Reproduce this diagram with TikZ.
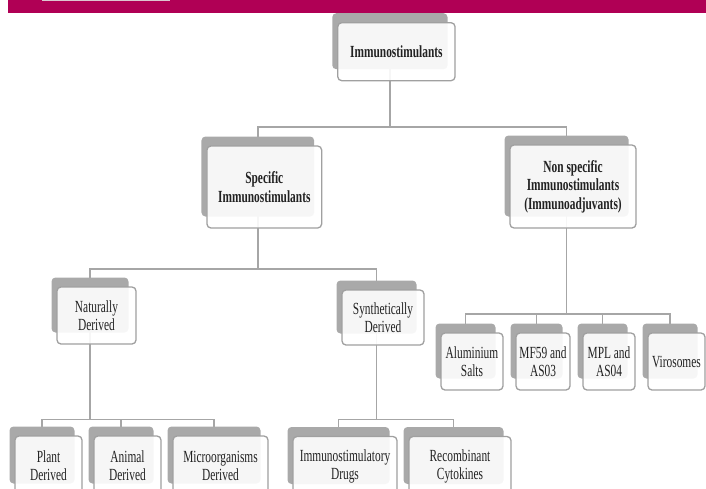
\documentclass[tikz,border=0pt]{standalone}
\usepackage{fontspec}
\setmainfont{Liberation Serif}[FakeStretch=0.67]
\definecolor{barc}{HTML}{B00055}
\definecolor{stripec}{HTML}{DCC6CF}
\definecolor{shadc}{HTML}{A9A9A9}
\definecolor{edgec}{HTML}{A0A0A0}
\definecolor{connc}{HTML}{A6A6A6}
\definecolor{txtc}{HTML}{222222}
\pgfdeclarelayer{connlayer}
\pgfdeclarelayer{shadlayer}
\pgfsetlayers{connlayer,shadlayer,main}
\tikzset{
  frontbox/.style={draw=edgec, line width=1.3pt, fill=white, fill opacity=0.9,
    text opacity=1, draw opacity=1, rounded corners=4pt, inner sep=0pt,
    align=center, text=txtc, font=\fontsize{17}{18}\selectfont},
  shadowbox/.style={fill=shadc, rounded corners=4pt, inner sep=0pt},
  conn/.style={draw=connc, line width=1.9pt},
  bold/.style={font=\fontsize{17}{18.5}\selectfont\bfseries}
}
% #1 name, #2 cx, #3 cy, #4 w, #5 h, #6 extra style, #7 text
\newcommand\dbox[7]{%
  \node[frontbox, minimum width=#4pt, minimum height=#5pt, #6] (#1) at (#2,#3) {#7};
  \begin{pgfonlayer}{shadlayer}
    \node[shadowbox, minimum width=#4pt-2pt, minimum height=#5pt-2pt] (#1s) at (#2-6.5,#3-10.5) {};
  \end{pgfonlayer}}
\begin{document}
\begin{tikzpicture}[x=1pt, y=-1pt]
\useasboundingbox (0,0) rectangle (706,488);
\clip (0,0) rectangle (706,488);
% header bar
\fill[barc] (8,0) rectangle (706,12.5);
\fill[stripec] (42,0) rectangle (170,1.4);

% boxes
\dbox{top}{396.4}{51.7}{117.3}{58}{bold}{Immunostimulants}
\dbox{spec}{264.3}{187}{114.7}{82}{bold}{Specific\\Immunostimulants}
\dbox{non}{573}{186.5}{126}{83}{bold}{Non specific\\Immunostimulants\\(Immunoadjuvants)}
\dbox{nat}{96.5}{315.5}{79}{57}{}{Naturally\\Derived}
\dbox{syn}{383}{317.5}{82}{55}{}{Synthetically\\Derived}
\dbox{plant}{48.5}{465.5}{67}{59}{}{Plant\\Derived}
\dbox{animal}{127.5}{465.5}{67}{59}{}{Animal\\Derived}
\dbox{micro}{220.5}{465.5}{95}{59}{}{Microorganisms\\Derived}
\dbox{drugs}{345}{466}{104}{59}{}{Immunostimulatory\\Drugs}
\dbox{recomb}{460}{466}{102}{59}{}{Recombinant\\Cytokines}
\dbox{alum}{472}{361.5}{62}{57}{}{Aluminium\\Salts}
\dbox{mf}{543}{361.5}{54}{57}{}{MF59 and\\AS03}
\dbox{mpl}{609}{361.5}{52}{57}{}{MPL and\\AS04}
\dbox{viro}{676.5}{361.5}{57}{57}{}{Virosomes}

% connectors
\begin{pgfonlayer}{connlayer}
\coordinate (j1) at (390,127.3);
\coordinate (j2) at (258,269);
\coordinate (j3) at (90,419.5);
\coordinate (j4) at (376.5,419.5);
\coordinate (j5) at (566.5,314);
\draw[conn] (tops.center) -- (tops.center |- j1);
\draw[conn] (specs.center) |- (j1) -| (nons.center);
\draw[conn] (specs.center) -- (specs.center |- j2);
\draw[conn] (nats.center) |- (j2) -| (syns.center);
\draw[conn] (nats.center) -- (nats.center |- j3);
\draw[conn] (plants.center) |- (j3) -| (micros.center);
\draw[conn] (animals.center) -- (animals.center |- j3);
\draw[conn] (syns.center) -- (syns.center |- j4);
\draw[conn] (drugss.center) |- (j4) -| (recombs.center);
\draw[conn] (nons.center) -- (nons.center |- j5);
\draw[conn] (alums.center) |- (j5) -| (viros.center);
\draw[conn] (mfs.center) -- (mfs.center |- j5);
\draw[conn] (mpls.center) -- (mpls.center |- j5);
\end{pgfonlayer}
\end{tikzpicture}
\end{document}
